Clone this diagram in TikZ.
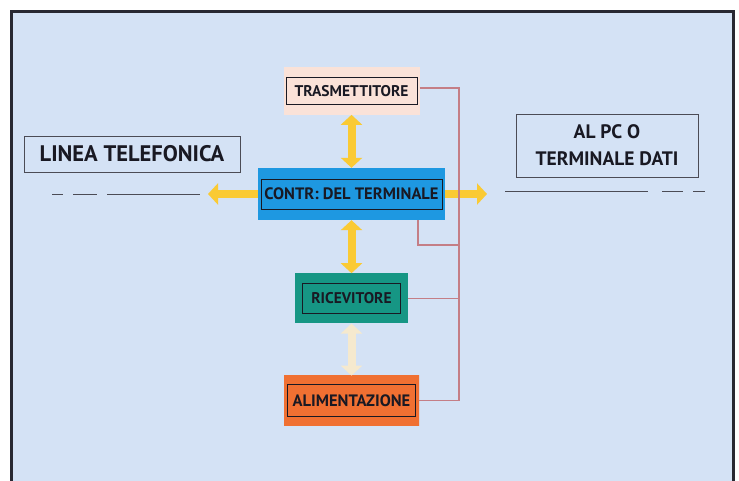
\documentclass[tikz,border=0pt]{standalone}
\usepackage{fontspec}
\setmainfont{PT Sans}
\usepackage{tikz}
\usetikzlibrary{positioning}
\usetikzlibrary{arrows.meta}
\definecolor{sfondo}{RGB}{212,226,245}
\definecolor{cornice}{RGB}{40,40,50}
\definecolor{testo}{RGB}{25,25,35}
\definecolor{grigio}{RGB}{75,75,85}
\definecolor{blu}{RGB}{30,152,225}
\definecolor{pesca}{RGB}{250,226,216}
\definecolor{verde}{RGB}{22,150,132}
\definecolor{arancio}{RGB}{240,112,50}
\definecolor{rosa}{RGB}{236,128,150}
\definecolor{giallo}{RGB}{250,202,52}
\definecolor{crema}{RGB}{245,233,206}
\definecolor{filo}{RGB}{196,126,134}

\begin{document}
\begin{tikzpicture}[x=1pt, y=-1pt, node distance=53pt,
    fondo/.style = {inner sep=0pt, minimum height=50pt},
    cornicetta/.style = {draw=testo, line width=0.9pt, inner sep=0pt, minimum height=30pt, text=testo, font=\bfseries\fontsize{15.5}{17}\selectfont},
    cartello/.style = {draw=grigio, line width=0.9pt, inner sep=0pt, text=testo, font=\bfseries\fontsize{19.5}{27}\selectfont},
    freccia/.style = {draw=giallo, line width=8pt, {Triangle[length=10pt,width=21pt]}-{Triangle[length=10pt,width=21pt]}},
    filo/.style = {draw=filo, line width=1.3pt},
    cavo/.style = {draw=grigio, line width=1pt}]
            % Frame
            \useasboundingbox (0,0) rectangle (739,481);
            \fill[white] (0,0) rectangle (739,481);
            \fill[sfondo] (11,12) rectangle (733,481);
            \draw[cornice, line width=3pt] (11,481) -- (11,12) -- (733,12) -- (733,481);
            % Nodes
            \node[fondo, fill=blu, minimum width=187pt, minimum height=52pt] (ctrl) at (351.5,194) {};
            \node[fondo, fill=pesca, minimum width=136pt, minimum height=48pt, above=of ctrl] (trasm) {};
            \node[fondo, fill=verde, minimum width=113pt, below=of ctrl] (ric) {};
            \node[fondo, left color=arancio, middle color=rosa, right color=arancio, minimum width=135pt, below=52pt of ric] (alim) {};
            \node[cornicetta, minimum width=181pt, font=\bfseries\fontsize{16.5}{17}\selectfont] (ctrl-t) at (ctrl) {CONTR: DEL TERMINALE};
            \node[cornicetta, minimum width=131pt, minimum height=27pt] (trasm-t) at (trasm) {TRASMETTITORE};
            \node[cornicetta, minimum width=98pt] (ric-t) at (ric) {RICEVITORE};
            \node[cornicetta, minimum width=128pt, minimum height=32pt, font=\bfseries\fontsize{16.5}{17}\selectfont] (alim-t) at (alim) {ALIMENTAZIONE};
            \node[cartello, minimum width=216pt, minimum height=36pt, font=\bfseries\fontsize{22.5}{27}\selectfont] (linea) at (132,154) {LINEA TELEFONICA};
            \node[cartello, minimum width=182pt, minimum height=63pt, align=center] (pc) at (607,145.5) {AL PC O\\TERMINALE DATI};
            % Lines
            \coordinate (la) at (52,195);
            \coordinate (lb) at (200,195);
            \coordinate (ra) at (505,192);
            \coordinate (rb) at (705,192);
            \draw[cavo, dash pattern=on 11pt off 10pt on 24pt off 10pt on 93pt off 100pt] (la) -- (lb);
            \draw[cavo, dash pattern=on 143pt off 14pt on 21pt off 10pt on 12pt off 100pt] (ra) -- (rb);
            % Arrows
            \coordinate (sx) at (208,194);
            \coordinate (dx) at (487,194);
            \draw[freccia] (trasm) -- (ctrl);
            \draw[freccia] (ctrl) -- (ric);
            \draw[freccia, draw=crema] (ric) -- (alim);
            \draw[freccia, -{Triangle[length=10pt,width=21pt]}] (ctrl) -- (sx);
            \draw[freccia, -{Triangle[length=10pt,width=21pt]}] (ctrl) -- (dx);
            % Wires
            \coordinate (bus) at (459,88);
            \coordinate (giro) at (418,245);
            \draw[filo] (trasm.east |- bus) -- (bus) |- (alim.east);
            \draw[filo] (ric.east) -- (ric.east -| bus);
            \draw[filo] (ctrl.south -| giro) -- (giro) -- (giro -| bus);
\end{tikzpicture}
\end{document}
